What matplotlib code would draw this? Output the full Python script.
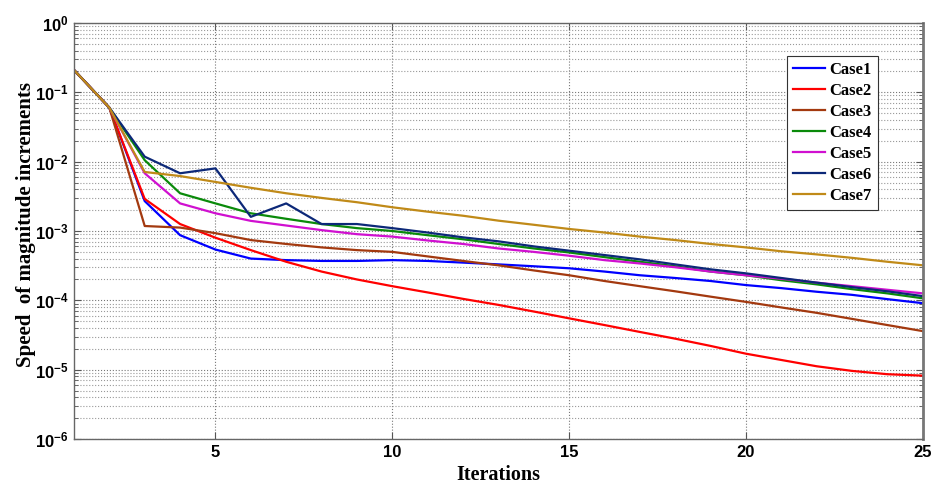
import numpy as np
import matplotlib
matplotlib.use("Agg")
import matplotlib.pyplot as plt
from matplotlib.ticker import FixedLocator, LogLocator, FuncFormatter, NullFormatter

plt.rcParams["mathtext.fontset"] = "custom"
plt.rcParams["mathtext.bf"] = "Liberation Sans:bold"
plt.rcParams["mathtext.rm"] = "Liberation Sans"
plt.rcParams["mathtext.default"] = "bf"

# values (iterations 1..25)
iterations = list(range(1, 26))

case1 = [0.21, 0.06, 0.0027, 0.00087, 0.00054, 0.00040, 0.00038, 0.00037, 0.00037, 0.00038,
         0.00037, 0.00035, 0.00033, 0.00031, 0.00029, 0.00026, 0.00023, 0.00021, 0.00019, 0.000166,
         0.00015, 0.000133, 0.00012, 0.000104, 9.1e-5]
case2 = [0.21, 0.06, 0.0029, 0.00126, 0.00080, 0.00053, 0.00036, 0.00026, 0.00020, 0.00016,
         0.00013, 0.000105, 8.6e-5, 6.9e-5, 5.5e-5, 4.4e-5, 3.5e-5, 2.8e-5, 2.2e-5, 1.7e-5,
         1.38e-5, 1.12e-5, 9.6e-6, 8.6e-6, 8.2e-6]
case3 = [0.21, 0.06, 0.00118, 0.00112, 0.00093, 0.00074, 0.00065, 0.00058, 0.00053, 0.00050,
         0.00043, 0.00037, 0.00032, 0.00027, 0.00023, 0.00019, 0.00016, 0.000135, 0.000113, 9.5e-5,
         7.9e-5, 6.6e-5, 5.4e-5, 4.4e-5, 3.6e-5]
case4 = [0.21, 0.06, 0.0105, 0.0035, 0.0025, 0.0018, 0.0015, 0.00126, 0.00110, 0.00100,
         0.00087, 0.00076, 0.00065, 0.00056, 0.00049, 0.00042, 0.00036, 0.00031, 0.00026, 0.00023,
         0.000195, 0.00017, 0.000145, 0.000126, 0.000107]
case5 = [0.21, 0.06, 0.0068, 0.0025, 0.0018, 0.0014, 0.0012, 0.00103, 0.00090, 0.00083,
         0.00073, 0.00065, 0.00056, 0.00050, 0.00044, 0.00038, 0.00034, 0.00030, 0.00026, 0.00023,
         0.000205, 0.00018, 0.00016, 0.000142, 0.000126]
case6 = [0.21, 0.06, 0.0118, 0.0068, 0.0080, 0.0016, 0.0025, 0.00126, 0.00126, 0.0011,
         0.00095, 0.00081, 0.00071, 0.00060, 0.00052, 0.00045, 0.00039, 0.00033, 0.00028, 0.000245,
         0.00021, 0.00018, 0.000155, 0.000135, 0.000115]
case7 = [0.21, 0.06, 0.0071, 0.0062, 0.0051, 0.0042, 0.0035, 0.0030, 0.0026, 0.0022,
         0.0019, 0.00166, 0.00141, 0.00123, 0.00107, 0.00095, 0.00083, 0.00074, 0.00065, 0.00058,
         0.00051, 0.00046, 0.00041, 0.00036, 0.00032]

labels = ["Case1", "Case2", "Case3", "Case4", "Case5", "Case6", "Case7"]
series = [case1, case2, case3, case4, case5, case6, case7]
colors = ["#0000ff", "#ff0000", "#a3390f", "#0a8a0a", "#d010d0", "#0c2878", "#c08a18"]

xticks = [5, 10, 15, 20, 25]

fig = plt.figure(figsize=(9.33, 4.86), dpi=100)
ax = fig.add_axes([0.0793, 0.0967, 0.9097, 0.856])

for vals, lab, col in zip(series, labels, colors):
    ax.plot(iterations, vals, color=col, lw=1.6, label=lab)

ax.set_yscale("log")
ax.set_xlim(1, 25)
ax.set_ylim(1e-6, 1)

ax.xaxis.set_major_locator(FixedLocator(xticks))
ax.yaxis.set_major_locator(LogLocator(base=10, numticks=10))
ax.yaxis.set_minor_locator(LogLocator(base=10, subs=np.arange(2, 10), numticks=20))
ax.yaxis.set_minor_formatter(NullFormatter())
ax.yaxis.set_major_formatter(FuncFormatter(
    lambda v, p: r"$\mathbf{10^{%d}}$" % int(round(np.log10(v)))))

ax.grid(True, which="major", axis="both", ls=":", color="#777777", lw=0.8)
ax.grid(True, which="minor", axis="y", ls=":", color="#999999", lw=0.8)

ax.tick_params(which="both", direction="in", right=True, top=True, color="#555555")
ax.tick_params(which="major", length=5)
ax.tick_params(which="minor", length=3)
ax.tick_params(axis="x", pad=4)
ax.tick_params(axis="y", pad=4)
for t in ax.get_xticklabels() + ax.get_yticklabels():
    t.set_fontfamily("Liberation Sans")
    t.set_fontweight("bold")
    t.set_fontsize(12)

for side in ["left", "bottom", "top"]:
    ax.spines[side].set_color("#666666")
    ax.spines[side].set_linewidth(1.0)
ax.spines["right"].set_color("#777777")
ax.spines["right"].set_linewidth(2.0)

ax.set_xlabel("Iterations", fontfamily="Liberation Serif", fontweight="bold", fontsize=14.5)
ax.xaxis.set_label_coords(0.5, -0.062)
ax.set_ylabel("Speed  of magnitude increments", fontfamily="Liberation Serif",
              fontweight="bold", fontsize=15)
ax.yaxis.set_label_coords(-0.045, 0.515)

leg = ax.legend(loc="upper right", bbox_to_anchor=(0.947, 0.921), borderaxespad=0,
                fancybox=False, edgecolor="#333333", framealpha=1, labelspacing=0.3,
                handlelength=1.9, handletextpad=0.3, borderpad=0.35,
                prop={"family": "Liberation Serif", "weight": "bold", "size": 12})
leg.get_frame().set_linewidth(0.8)

fig.savefig("out.png", dpi=100)
